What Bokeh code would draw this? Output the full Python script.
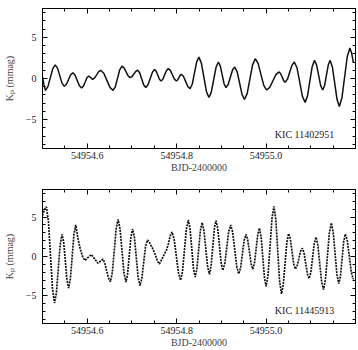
from bokeh.plotting import figure
from bokeh.models import LinearAxis, FixedTicker, Label, Range1d, PrintfTickFormatter, CustomJSTickFormatter
from bokeh.layouts import column
from bokeh.embed import file_html
from bokeh.resources import INLINE

# ---- data (BJD-2400000, Kp in mmag) ----
t_top = [54954.5000, 54954.5033, 54954.5066, 54954.5121, 54954.5175, 54954.5230, 54954.5284, 54954.5335,
         54954.5386, 54954.5436, 54954.5487, 54954.5535, 54954.5583, 54954.5630, 54954.5678, 54954.5727,
         54954.5776, 54954.5825, 54954.5874, 54954.5914, 54954.5954, 54954.5994, 54954.6034, 54954.6078,
         54954.6121, 54954.6166, 54954.6211, 54954.6256, 54954.6301, 54954.6370, 54954.6440, 54954.6509,
         54954.6578, 54954.6628, 54954.6678, 54954.6727, 54954.6777, 54954.6823, 54954.6869, 54954.6915,
         54954.6961, 54954.7003, 54954.7044, 54954.7086, 54954.7127, 54954.7173, 54954.7219, 54954.7264,
         54954.7310, 54954.7359, 54954.7409, 54954.7458, 54954.7507, 54954.7543, 54954.7579, 54954.7615,
         54954.7651, 54954.7692, 54954.7732, 54954.7773, 54954.7813, 54954.7859, 54954.7904, 54954.7950,
         54954.7995, 54954.8022, 54954.8050, 54954.8077, 54954.8104, 54954.8153, 54954.8203, 54954.8252,
         54954.8301, 54954.8350, 54954.8399, 54954.8448, 54954.8497, 54954.8553, 54954.8610, 54954.8666,
         54954.8722, 54954.8775, 54954.8828, 54954.8881, 54954.8934, 54954.8976, 54954.9019, 54954.9061,
         54954.9103, 54954.9152, 54954.9201, 54954.9250, 54954.9299, 54954.9354, 54954.9409, 54954.9463,
         54954.9518, 54954.9578, 54954.9638, 54954.9698, 54954.9758, 54954.9822, 54954.9885, 54954.9949,
         54955.0012, 54955.0082, 54955.0151, 54955.0221, 54955.0290, 54955.0324, 54955.0359, 54955.0393,
         54955.0427, 54955.0479, 54955.0530, 54955.0582, 54955.0633, 54955.0693, 54955.0753, 54955.0813,
         54955.0873, 54955.0926, 54955.0978, 54955.1031, 54955.1083, 54955.1129, 54955.1175, 54955.1221,
         54955.1267, 54955.1309, 54955.1350, 54955.1392, 54955.1433, 54955.1484, 54955.1536, 54955.1587,
         54955.1638, 54955.1697, 54955.1756, 54955.1815, 54955.1874, 54955.1912, 54955.1951]
kp_top = [0.20, -0.75, -1.45, -0.99, 0.10, 1.19, 1.65, 1.26,
          0.35, -0.56, -0.95, -0.70, -0.13, 0.45, 0.70, 0.42,
          -0.23, -0.87, -1.15, -0.93, -0.43, 0.08, 0.30, 0.10,
          -0.10, 0.07, 0.45, 0.84, 1.00, 0.63, -0.23, -1.08,
          -1.45, -1.01, 0.03, 1.06, 1.50, 1.29, 0.80, 0.31,
          0.10, 0.24, 0.55, 0.87, 1.00, 0.69, -0.05, -0.79,
          -1.10, -0.77, 0.00, 0.77, 1.10, 0.89, 0.40, -0.09,
          -0.30, -0.08, 0.45, 0.98, 1.20, 0.98, 0.45, -0.08,
          -0.30, -0.18, 0.10, 0.38, 0.50, 0.24, -0.38, -0.99,
          -1.25, -0.67, 0.68, 2.02, 2.60, 1.87, 0.15, -1.57,
          -2.30, -1.66, -0.15, 1.36, 2.00, 1.54, 0.45, -0.64,
          -1.10, -0.73, 0.15, 1.03, 1.40, 0.81, -0.58, -1.96,
          -2.55, -1.81, -0.08, 1.66, 2.40, 1.83, 0.50, -0.83,
          -1.40, -1.07, -0.30, 0.47, 0.80, 0.61, 0.18, -0.26,
          -0.45, -0.08, 0.78, 1.63, 2.00, 1.27, -0.45, -2.17,
          -2.90, -2.14, -0.35, 1.44, 2.20, 1.66, 0.40, -0.86,
          -1.40, -0.86, 0.40, 1.66, 2.20, 1.36, -0.60, -2.56,
          -3.40, -2.33, 0.15, 2.64, 3.70, 3.10, 2.00]

t_bot = [54954.5000, 54954.5044, 54954.5087, 54954.5133, 54954.5178, 54954.5224, 54954.5269, 54954.5311,
         54954.5353, 54954.5395, 54954.5437, 54954.5474, 54954.5511, 54954.5547, 54954.5584, 54954.5624,
         54954.5664, 54954.5703, 54954.5743, 54954.5793, 54954.5846, 54954.5903, 54954.5951, 54954.6022,
         54954.6093, 54954.6166, 54954.6239, 54954.6294, 54954.6349, 54954.6392, 54954.6434, 54954.6477,
         54954.6519, 54954.6562, 54954.6605, 54954.6647, 54954.6690, 54954.6734, 54954.6778, 54954.6821,
         54954.6865, 54954.6903, 54954.6940, 54954.6978, 54954.7015, 54954.7056, 54954.7097, 54954.7138,
         54954.7179, 54954.7221, 54954.7262, 54954.7304, 54954.7345, 54954.7391, 54954.7437, 54954.7482,
         54954.7527, 54954.7571, 54954.7616, 54954.7674, 54954.7732, 54954.7773, 54954.7814, 54954.7855,
         54954.7896, 54954.7944, 54954.7993, 54954.8041, 54954.8089, 54954.8132, 54954.8175, 54954.8218,
         54954.8261, 54954.8299, 54954.8338, 54954.8376, 54954.8414, 54954.8453, 54954.8492, 54954.8530,
         54954.8569, 54954.8610, 54954.8651, 54954.8692, 54954.8733, 54954.8770, 54954.8807, 54954.8843,
         54954.8880, 54954.8918, 54954.8957, 54954.8995, 54954.9033, 54954.9077, 54954.9121, 54954.9164,
         54954.9208, 54954.9253, 54954.9299, 54954.9344, 54954.9389, 54954.9430, 54954.9470, 54954.9511,
         54954.9551, 54954.9589, 54954.9628, 54954.9666, 54954.9704, 54954.9741, 54954.9778, 54954.9815,
         54954.9852, 54954.9889, 54954.9927, 54954.9964, 54955.0001, 54955.0045, 54955.0089, 54955.0132,
         54955.0176, 54955.0218, 54955.0260, 54955.0302, 54955.0344, 54955.0384, 54955.0424, 54955.0464,
         54955.0504, 54955.0542, 54955.0580, 54955.0617, 54955.0655, 54955.0694, 54955.0733, 54955.0771,
         54955.0810, 54955.0848, 54955.0887, 54955.0925, 54955.0963, 54955.1001, 54955.1040, 54955.1078,
         54955.1116, 54955.1158, 54955.1200, 54955.1242, 54955.1284, 54955.1328, 54955.1372, 54955.1415,
         54955.1459, 54955.1501, 54955.1543, 54955.1585, 54955.1627, 54955.1663, 54955.1700, 54955.1736,
         54955.1772, 54955.1817, 54955.1862, 54955.1906, 54955.1951]
kp_bot = [5.20, 5.95, 6.30, 4.47, 0.20, -4.07, -5.90, -4.60,
          -1.55, 1.50, 2.80, 1.78, -0.60, -2.98, -4.00, -2.80,
          0.00, 2.80, 4.00, 2.30, 0.90, -0.10, -0.50, -0.10,
          0.25, -0.30, -0.85, -0.60, -0.35, -0.80, -1.80, -2.75,
          -3.20, -2.00, 0.75, 3.50, 4.70, 3.51, 0.73, -2.06,
          -3.25, -2.24, 0.13, 2.49, 3.50, 2.42, -0.10, -2.62,
          -3.70, -2.83, -0.80, 1.23, 2.10, 1.80, 1.30, 0.80,
          0.15, -0.60, -0.95, -0.30, 0.40, 0.80, 1.60, 2.60,
          3.10, 2.19, 0.05, -2.09, -3.00, -1.85, 0.83, 3.50,
          4.65, 3.56, 1.03, -1.51, -2.60, -1.57, 0.85, 3.27,
          4.30, 3.32, 1.03, -1.27, -2.25, -1.23, 1.15, 3.53,
          4.55, 3.60, 1.40, -0.80, -1.75, -0.89, 1.13, 3.14,
          4.00, 3.07, 0.90, -1.27, -2.20, -1.45, 0.30, 2.05,
          2.80, 2.14, 0.60, -0.94, -1.60, -0.82, 1.00, 2.82,
          3.60, 2.49, -0.10, -2.69, -3.80, -2.28, 1.28, 4.83,
          6.35, 4.69, 0.80, -3.09, -4.75, -3.60, -0.93, 1.75,
          2.90, 2.23, 0.65, -0.93, -1.60, -1.20, -0.28, 0.65,
          1.05, 0.47, -0.88, -2.22, -2.80, -2.01, -0.18, 1.66,
          2.45, 1.45, -0.88, -3.20, -4.20, -2.93, 0.03, 2.98,
          4.25, 3.10, 0.40, -2.30, -3.45, -2.50, -0.30, 1.90,
          2.85, 2.00, 0.00, -2.00, -2.90]

x_major = [54954.6, 54954.8, 54955.0]
x_minor = [54954.5, 54954.55, 54954.65, 54954.7, 54954.75, 54954.85, 54954.9,
           54954.95, 54955.05, 54955.1, 54955.15, 54955.2]
y_major = [-5, 0, 5]
y_minor = [-8, -7, -6, -4, -3, -2, -1, 1, 2, 3, 4, 6, 7, 8]
star_names = ["KIC 11402951", "KIC 11445913"]
name_x = 54955.0196
name_y = -6.8
x_title = "BJD-2400000"
y_title = "K\u209a (mmag)"

FONT = "Liberation Serif"


def style_axis(ax, ticker, show_labels):
    ax.ticker = ticker
    ax.major_tick_in = 5
    ax.major_tick_out = 0
    ax.minor_tick_in = 3
    ax.minor_tick_out = 0
    ax.axis_line_color = "black"
    ax.major_tick_line_color = "black"
    ax.minor_tick_line_color = "black"
    ax.major_label_text_font = FONT
    ax.major_label_text_font_size = "10px"
    ax.major_label_text_color = "#222222"
    if not show_labels:
        ax.formatter = CustomJSTickFormatter(code="return ''")
        ax.major_label_text_font_size = "1px"
        ax.major_label_standoff = 0


def make_panel(t, kp, name, h, top_b, bot_b, dash):
    p = figure(width=358, height=h, x_range=Range1d(54954.5, 54955.2),
               y_range=Range1d(-8.5, 8.5), output_backend="svg",
               toolbar_location=None, min_border_left=37, min_border_right=3,
               min_border_top=top_b, min_border_bottom=bot_b,
               x_axis_location=None, y_axis_location=None)
    p.grid.visible = False
    p.outline_line_color = "black"
    p.outline_line_width = 1
    p.background_fill_color = "white"
    p.border_fill_color = "white"

    xt = FixedTicker(ticks=x_major, minor_ticks=x_minor)
    yt = FixedTicker(ticks=y_major, minor_ticks=y_minor)

    xb = LinearAxis(formatter=PrintfTickFormatter(format="%.1f"))
    style_axis(xb, xt, True)
    xb.major_label_standoff = 3
    xb.axis_label = x_title
    xb.axis_label_text_font = FONT
    xb.axis_label_text_font_size = "10px"
    xb.axis_label_text_font_style = "normal"
    xb.axis_label_standoff = 0
    p.add_layout(xb, "below")

    xa = LinearAxis()
    style_axis(xa, xt, False)
    p.add_layout(xa, "above")

    yl = LinearAxis()
    style_axis(yl, yt, True)
    yl.major_label_standoff = 6
    yl.axis_label = y_title
    yl.axis_label_text_font = FONT
    yl.axis_label_text_font_size = "10px"
    yl.axis_label_text_font_style = "normal"
    yl.axis_label_standoff = 8
    p.add_layout(yl, "left")

    yr = LinearAxis()
    style_axis(yr, yt, False)
    p.add_layout(yr, "right")

    if dash:
        p.line(t, kp, line_color="#111111", line_width=1.7, line_dash="2 1")
    else:
        p.line(t, kp, line_color="#111111", line_width=1.5)

    p.add_layout(Label(x=name_x, y=name_y, text=name, text_font=FONT, text_font_size="10px",
                       text_baseline="middle", text_align="left", text_color="#222222"))
    return p


p1 = make_panel(t_top, kp_top, star_names[0], 175, 8, 27, False)
p2 = make_panel(t_bot, kp_bot, star_names[1], 175, 14, 22, True)
layout = column(p1, p2, spacing=0)

open("out.html", "w").write(file_html(layout, INLINE))
